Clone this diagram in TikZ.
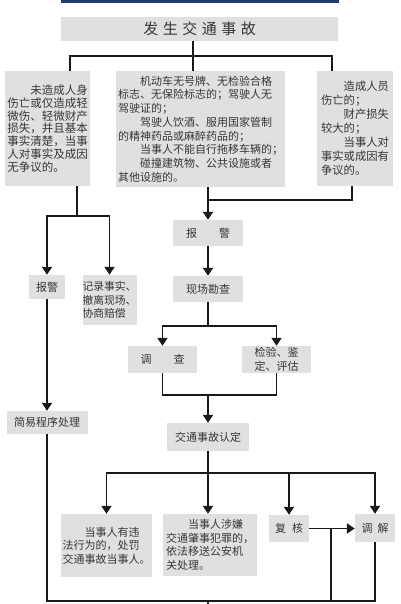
\documentclass[tikz,border=0pt]{standalone}
\usepackage{fontspec}
\newfontfamily\cjkfont{Noto Sans CJK SC}
\usepackage{tikz}
\usetikzlibrary{positioning,calc,arrows.meta}
\definecolor{boxgray}{HTML}{E0E0E0}
\definecolor{textgray}{HTML}{363636}
\definecolor{barblue}{HTML}{22396A}
\tikzset{LINE/.style={line width=1.6pt, black!90}}
\tikzset{ARROW/.style={LINE, -{Triangle[width=10pt,length=8pt]}}}
\tikzset{BOX/.style 2 args={rectangle, fill=boxgray, inner sep=0pt, minimum width=#1, minimum height=#2, text=textgray, align=center, font=\cjkfont\fontsize{11pt}{13.5pt}\selectfont}}
\tikzset{TEXTBOX/.style 2 args={BOX={#1}{#2}, align=left}}

\begin{document}
\begin{tikzpicture}[x=1pt, y=-1pt]
    \useasboundingbox (0,0) rectangle (400,604);
    \fill[white] (0,0) rectangle (400,604);
    \fill[barblue] (61,0) rectangle (339,3.5);

    \node[BOX={277pt}{24pt}, font=\cjkfont\fontsize{15pt}{18pt}\selectfont] (n_accident) at (199.5,29)
        {发\hspace{4.5pt}生\hspace{4.5pt}交\hspace{4.5pt}通\hspace{4.5pt}事\hspace{4.5pt}故};

    \node[TEXTBOX={85pt}{115pt}, font=\cjkfont\fontsize{11.5pt}{12.8pt}\selectfont] (n_minor) at (47.5,128.5) {
        　　未造成人身\\
        伤亡或仅造成轻\\
        微伤、轻微财产\\
        损失，并且基本\\
        事实清楚，当事\\
        人对事实及成因\\
        无争议的。
    };
    \node[TEXTBOX={169pt}{116pt}, font=\cjkfont\fontsize{11pt}{13.7pt}\selectfont] (n_police) at (200.5,129) {
        　　机动车无号牌、无检验合格\\
        标志、无保险标志的；驾驶人无\\
        驾驶证的；\\
        　　驾驶人饮酒、服用国家管制\\
        的精神药品或麻醉药品的；\\
        　　当事人不能自行拖移车辆的；\\
        　　碰撞建筑物、公共设施或者\\
        其他设施的。
    };
    \node[TEXTBOX={76pt}{115pt}, font=\cjkfont\fontsize{11.3pt}{14pt}\selectfont] (n_serious) at (355,128.5) {
        　　造成人员\\
        伤亡的；\\
        　　财产损失\\
        较大的；\\
        　　当事人对\\
        事实或成因有\\
        争议的。
    };

    \coordinate (top_mid) at (193,56);
    \coordinate (top_left) at (70,56);
    \coordinate (top_right) at (332,56);
    \draw[LINE] (n_accident.south -| top_mid) -- (top_mid);
    \draw[LINE] (n_minor.north -| top_left) -- (top_left) -- (top_right) -- (n_serious.north -| top_right);
    \draw[LINE] (top_mid) -- (n_police.north -| top_mid);

    \node[BOX={36pt}{24pt}] (n_report_l) at (47,287) {报警};
    \node[TEXTBOX={53pt}{50pt}, font=\cjkfont\fontsize{10.8pt}{13.5pt}\selectfont] (n_record) at (109.5,300) {
        记录事实、\\
        撤离现场、\\
        协商赔偿
    };
    \node[BOX={81pt}{23pt}] (n_simple) at (47,422.5) {简易程序处理};

    \coordinate (left_bus) at (77,216);
    \draw[LINE] (n_minor.south -| left_bus) -- (left_bus);
    \draw[ARROW] (left_bus) -| (n_report_l.north);
    \draw[ARROW] (left_bus) -| (n_record.north);
    \draw[ARROW] (n_report_l) -- (n_simple);

    \node[BOX={70pt}{26pt}] (n_report_m) at (208,233) {报　　警};
    \node[BOX={70pt}{26pt}] (n_survey) at (208,289) {现场勘查};
    \node[BOX={69pt}{27pt}] (n_investigate) at (162.5,359.5) {调　　查};
    \node[BOX={69pt}{27pt}, font=\cjkfont\fontsize{11pt}{14pt}\selectfont] (n_inspect) at (276.5,359.5) {检验、鉴\\定、评估};
    \node[BOX={82pt}{28pt}] (n_determine) at (208,437) {交通事故认定};

    \coordinate (mid_join) at (208,200);
    \coordinate (right_drop) at (352,200);
    \draw[LINE] (n_police.south -| mid_join) -- (mid_join);
    \draw[LINE] (n_serious.south -| right_drop) -- (right_drop) -- (mid_join);
    \draw[ARROW] (mid_join) -- (n_report_m);
    \draw[ARROW] (n_report_m) -- (n_survey);

    \coordinate (survey_bus) at (208,326);
    \draw[LINE] (n_survey) -- (survey_bus);
    \draw[ARROW] (survey_bus) -| (n_investigate.north);
    \draw[ARROW] (survey_bus) -| (n_inspect.north);
    \coordinate (merge_bus) at (208,395);
    \draw[LINE] (n_investigate.south) |- (merge_bus) -| (n_inspect.south);
    \draw[ARROW] (merge_bus) -- (n_determine);

    \node[TEXTBOX={91pt}{63pt}] (n_penalty) at (106.5,545.5) {
        　　当事人有违\\
        法行为的，处罚\\
        交通事故当事人。
    };
    \node[TEXTBOX={94pt}{62pt}] (n_crime) at (210,545) {
        　　当事人涉嫌\\
        交通肇事犯罪的，\\
        依法移送公安机\\
        关处理。
    };
    \node[BOX={40pt}{27pt}] (n_review) at (289,528.5) {复\hspace{6pt}核};
    \node[BOX={40pt}{28pt}] (n_mediate) at (375,528) {调\hspace{5pt}解};

    \coordinate (result_bus) at (208,473);
    \draw[LINE] (n_determine) -- (result_bus);
    \draw[ARROW] (result_bus) -| (n_penalty.north);
    \draw[ARROW] (result_bus) -- (n_crime.north -| result_bus);
    \draw[ARROW] (result_bus) -| (n_review.north);
    \draw[ARROW] (result_bus) -| (n_mediate.north);
    \draw[ARROW] (n_review.east) -- (n_mediate.west |- n_review.east);

    \coordinate (bottom_bus) at (208,601);
    \coordinate (review_drop) at (331,528.5);
    \coordinate (exit_down) at (208,608);
    \draw[LINE] (n_simple.south) |- (n_mediate.south |- bottom_bus) -- (n_mediate.south);
    \draw[LINE] (review_drop) -- (review_drop |- bottom_bus);
    \draw[LINE] (bottom_bus) -- (exit_down);
\end{tikzpicture}
\end{document}
